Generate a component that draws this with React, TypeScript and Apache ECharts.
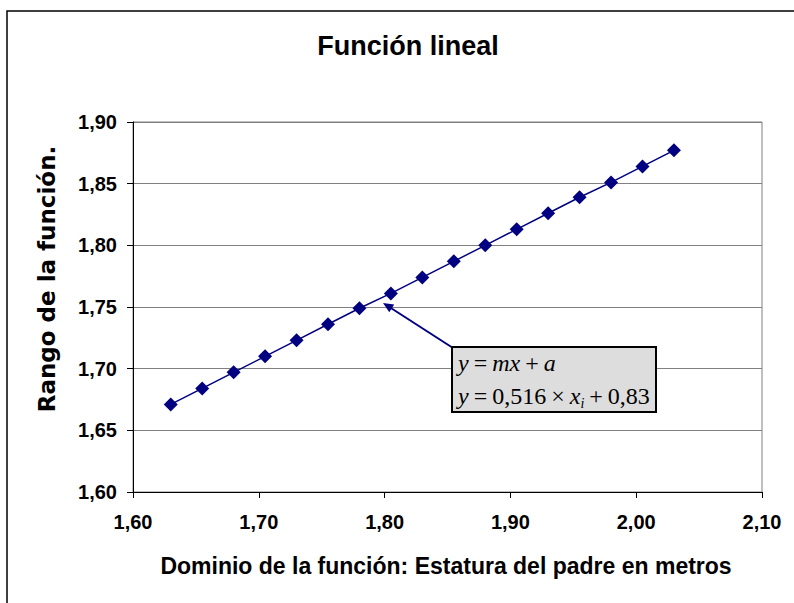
import React, { useEffect, useRef } from "react";
import * as echarts from "echarts";

const xValues = [1.63, 1.655, 1.68, 1.705, 1.73, 1.755, 1.78, 1.805, 1.83, 1.855, 1.88, 1.905, 1.93, 1.955, 1.98, 2.005, 2.03];
const yValues = [1.671, 1.684, 1.697, 1.710, 1.723, 1.736, 1.749, 1.761, 1.774, 1.787, 1.800, 1.813, 1.826, 1.839, 1.851, 1.864, 1.877];
const chartTitle = "Función lineal";
const xTitle = "Dominio de la función: Estatura del padre en metros";
const yTitle = "Rango de la función.";
const xTicks = { min: 1.6, max: 2.1, interval: 0.1 };
const yTicks = { min: 1.6, max: 1.9, interval: 0.05 };

const SANS = "'Liberation Sans', Arial, sans-serif";
const WIDE = "'DejaVu Sans', 'Liberation Sans', sans-serif";
const SERIF = "'Liberation Serif', 'Times New Roman', serif";
const fmt = (v: number) => v.toFixed(2).replace(".", ",");

export default function App() {
  const ref = useRef<HTMLDivElement>(null);
  useEffect(() => {
    if (!ref.current) return;
    const chart = echarts.init(ref.current, null, { renderer: "svg" });
    const data = xValues.map((x, i) => [x, yValues[i]]);
    const eqRich = {
      i: { fontStyle: "italic", fontFamily: SERIF, fontSize: 24, lineHeight: 28 },
      n: { fontFamily: SERIF, fontSize: 24, lineHeight: 28 },
      o: { fontFamily: SERIF, fontSize: 24, lineHeight: 28, padding: [0, 5, 0, 5] },
      s: { fontStyle: "italic", fontFamily: SERIF, fontSize: 14, lineHeight: 14, verticalAlign: "bottom" },
    };
    chart.setOption({
      animation: false,
      backgroundColor: "#ffffff",
      grid: {
        left: 133,
        right: 32,
        top: 122,
        bottom: 111,
        show: true,
        borderColor: "#808080",
        borderWidth: 1,
        backgroundColor: "transparent",
      },
      xAxis: {
        type: "value",
        min: xTicks.min,
        max: xTicks.max,
        interval: xTicks.interval,
        axisLine: { show: true, onZero: false, lineStyle: { color: "#000", width: 1 } },
        axisTick: { show: true, length: 6, lineStyle: { color: "#000" } },
        splitLine: { show: false },
        axisLabel: {
          formatter: fmt,
          color: "#000",
          fontFamily: SANS,
          fontWeight: "bold",
          fontSize: 20,
          margin: 20,
        },
      },
      yAxis: {
        type: "value",
        min: yTicks.min,
        max: yTicks.max,
        interval: yTicks.interval,
        axisLine: { show: true, onZero: false, lineStyle: { color: "#000", width: 1 } },
        axisTick: { show: true, length: 6, lineStyle: { color: "#000" } },
        splitLine: { show: true, lineStyle: { color: "#808080", width: 1 } },
        axisLabel: {
          formatter: fmt,
          color: "#000",
          fontFamily: SANS,
          fontWeight: "bold",
          fontSize: 20,
          margin: 16,
        },
      },
      series: [
        {
          type: "line",
          data,
          symbol: "diamond",
          symbolSize: 14,
          lineStyle: { color: "#000080", width: 1.5 },
          itemStyle: { color: "#000080" },
          z: 5,
        },
      ],
      graphic: [
        {
          type: "rect",
          shape: { x: 7, y: 11, width: 820, height: 620 },
          style: { fill: "none", stroke: "#000", lineWidth: 1.5 },
          silent: true,
          z: 100,
        },
        {
          type: "text",
          x: 408,
          y: 46,
          style: {
            text: chartTitle,
            font: `bold 27px ${SANS}`,
            fill: "#000",
            textAlign: "center",
            textVerticalAlign: "middle",
          },
        },
        {
          type: "text",
          x: 446,
          y: 566,
          style: {
            text: xTitle,
            font: `bold 23px ${SANS}`,
            fill: "#000",
            textAlign: "center",
            textVerticalAlign: "middle",
          },
        },
        {
          type: "text",
          x: 47,
          y: 279,
          rotation: Math.PI / 2,
          style: {
            text: yTitle,
            font: `bold 23px ${WIDE}`,
            fill: "#000",
            textAlign: "center",
            textVerticalAlign: "middle",
          },
        },
        {
          type: "line",
          shape: { x1: 453, y1: 348, x2: 387, y2: 305.5 },
          style: { stroke: "#000080", lineWidth: 2 },
          z: 50,
        },
        {
          type: "polygon",
          shape: { points: [[383, 303], [394.2, 304.6], [389.3, 312.2]] },
          style: { fill: "#000080" },
          z: 50,
        },
        {
          type: "rect",
          shape: { x: 452, y: 347, width: 204, height: 65 },
          style: { fill: "#DDDDDD", stroke: "#000", lineWidth: 2 },
          z: 60,
        },
        {
          type: "text",
          x: 458,
          y: 363,
          z: 61,
          style: {
            text: "{i|y}{o|=}{i|mx}{o|+}{i|a}",
            font: `24px ${SERIF}`,
            fill: "#000",
            textAlign: "left",
            textVerticalAlign: "middle",
            rich: eqRich,
          },
        },
        {
          type: "text",
          x: 458,
          y: 396,
          z: 61,
          style: {
            text: "{i|y}{o|=}{n|0,516}{o|×}{i|x}{s|i}{o|+}{n|0,83}",
            font: `24px ${SERIF}`,
            fill: "#000",
            textAlign: "left",
            textVerticalAlign: "middle",
            rich: eqRich,
          },
        },
      ],
    });
    return () => chart.dispose();
  }, []);
  return (
    <div
      ref={ref}
      style={{ position: "fixed", left: 0, top: 0, width: 794, height: 603, background: "#fff" }}
    />
  );
}
